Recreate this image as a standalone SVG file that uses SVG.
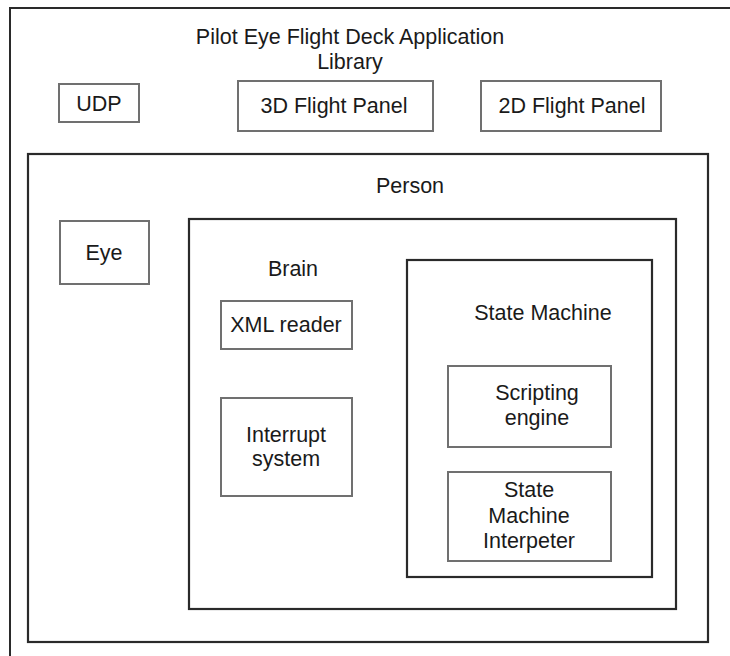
<svg xmlns="http://www.w3.org/2000/svg" width="730" height="656" viewBox="0 0 730 656">
<style>
.frame{fill:none;stroke:#2a2a2a;stroke-width:2}
.box{fill:#fff;stroke:#707070;stroke-width:2}
.cont{fill:#fff;stroke:#2a2a2a;stroke-width:2.2}
text{font-family:"Liberation Sans",Arial,sans-serif;font-size:21.5px;fill:#1a1a1a;text-anchor:middle}
</style>
<rect width="730" height="656" fill="#fff"/>
<g id="library">
<path class="frame" d="M10,660 V8 H732"/>
<text x="350" y="44">Pilot Eye Flight Deck Application</text>
<text x="350" y="69">Library</text>
</g>
<g id="udp"><rect class="box" x="59" y="84" width="80" height="38"/><text x="99" y="111">UDP</text></g>
<g id="flight3d"><rect class="box" x="238" y="81" width="195" height="50"/><text x="334" y="113">3D Flight Panel</text></g>
<g id="flight2d"><rect class="box" x="481" y="81" width="180" height="50"/><text x="572" y="113">2D Flight Panel</text></g>
<g id="person"><rect class="cont" x="28" y="154" width="680" height="488"/><text x="410" y="193">Person</text></g>
<g id="eye"><rect class="box" x="60" y="221" width="89" height="63"/><text x="104" y="260">Eye</text></g>
<g id="brain"><rect class="cont" x="189" y="219" width="487" height="390"/><text x="293" y="276">Brain</text></g>
<g id="xml"><rect class="box" x="221" y="301" width="131" height="48"/><text x="286" y="332">XML reader</text></g>
<g id="interrupt"><rect class="box" x="221" y="398" width="131" height="98"/><text x="286" y="442">Interrupt</text><text x="286" y="466">system</text></g>
<g id="statemachine"><rect class="cont" x="407" y="260" width="245" height="317"/><text x="543" y="320">State Machine</text></g>
<g id="scripting"><rect class="box" x="448" y="366" width="163" height="81"/><text x="537" y="400">Scripting</text><text x="537" y="425">engine</text></g>
<g id="interpreter"><rect class="box" x="448" y="472" width="163" height="89"/><text x="529" y="497">State</text><text x="529" y="523">Machine</text><text x="529" y="548">Interpeter</text></g>
<g id="connectors"></g>
</svg>
